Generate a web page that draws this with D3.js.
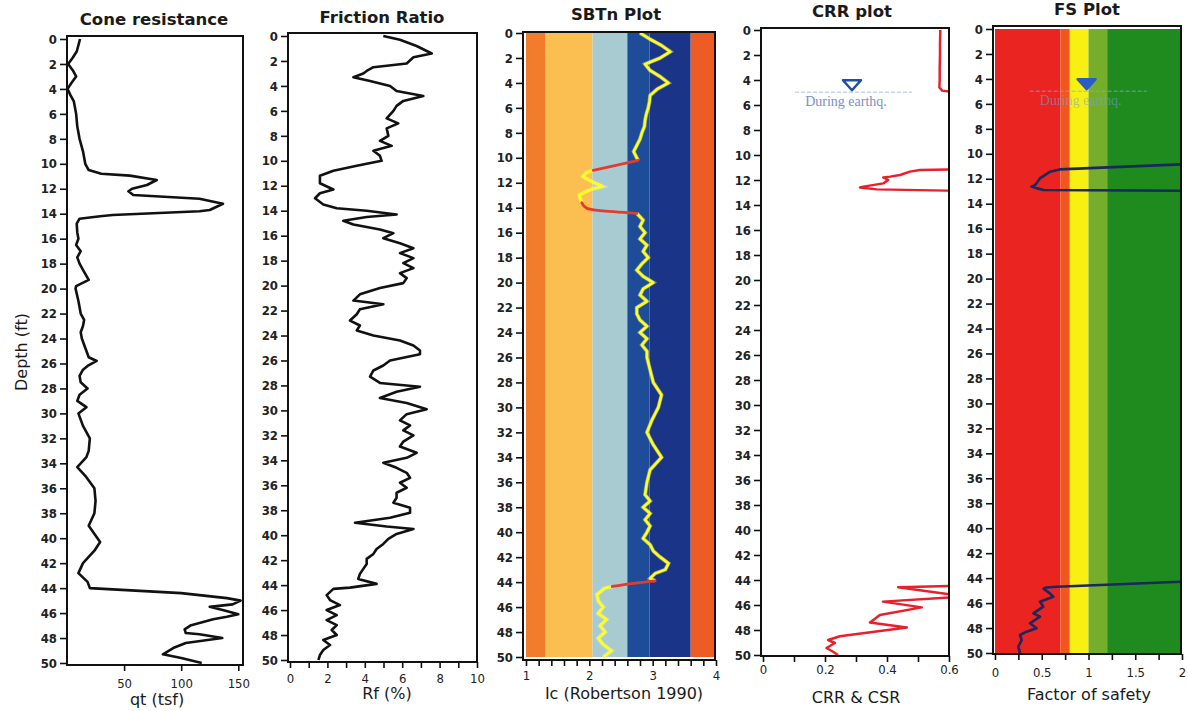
<!DOCTYPE html>
<html><head><meta charset="utf-8">
<script src="https://cdn.jsdelivr.net/npm/d3@7"></script>
<style>body{margin:0;background:#fff}svg{display:block}</style>
</head><body>
<svg id="c" width="1188" height="711"></svg>
<script>
// ---------------- DATA ----------------
const depthTicks = d3.range(0, 51, 2);

// Cone resistance qt (tsf)
const qtDepth = [0,0.5,1,1.5,2,2.5,3,3.5,4,4.5,5,6,7,8,9,10,10.5,10.8,10.95,11.3,11.7,12.0,12.2,12.5,12.8,13.2,13.7,13.8,14.1,14.2,14.4,14.8,15.5,16,16.5,17,17.5,18,18.5,19.3,19.8,20,21,22,22.5,23,23.5,24,24.5,25,25.5,25.8,26.2,26.5,27,27.5,28,28.5,29,29.5,30,31,32,33,33.5,34.3,35,36,37,38,39,40.3,41,42,42.8,43.5,44,44.1,44.4,44.8,45.0,45.3,45.5,45.8,46.1,46.3,46.5,47,47.3,47.6,47.7,48,48.4,48.8,49.3,49.6,50];
const qtValue = [11.4,10,8.5,5,1,5,8,4,0.5,3,6,8,9,11,14,16,19,30,55,78.6,70,57,53.8,58,116,136.6,125,116,40,29,11,8.5,9,10,8,12,9,11,14,19,8,7.5,10,12,15,14,12,13,15,17,19,26,18,14,11,12,18,11,9,17,10,14,20,19,17,9,16,24,25,24,19,29,24,14,10,18,20,40,100,140,152,145,125,138,150,140,128,108,103,104,116,136,104,93,84,100,118];

// Friction ratio Rf (%)
const rfDepth = [0,0.3,0.8,1.4,1.7,2.2,2.5,2.8,3.0,3.3,3.6,4.0,4.4,4.8,5.2,5.6,6,6.6,7,7.4,8,8.4,8.8,9.2,9.6,10,10.4,10.8,11.2,11.8,12.3,12.6,13,13.5,13.8,14,14.3,14.5,14.8,15.1,15.5,15.8,16.2,16.6,17,17.4,17.8,18.2,18.6,19,19.4,19.8,20.2,20.7,21.2,21.5,21.9,22.3,22.8,23.2,23.6,24.0,24.4,24.8,25.2,25.5,26,26.4,26.8,27.3,27.8,28.1,28.5,29,29.4,29.9,30.3,30.8,31.2,31.6,32,32.5,32.9,33.4,33.8,34.2,34.6,35,35.4,35.8,36.2,36.6,37,37.4,37.8,38.2,38.6,39,39.3,39.5,39.9,40.3,40.7,41.1,41.5,41.9,42.3,42.7,43.1,43.5,43.9,44.2,44.3,44.8,45.2,45.6,46,46.4,46.8,47.2,47.6,48,48.4,48.8,49.2,49.6,50];
const rfValue = [4.99,5.88,6.77,7.58,6.6,6.24,4.46,4.1,3.92,3.39,4.28,5.35,5.7,7.13,6.06,5.7,5.53,5.17,5.79,5.17,5.26,4.81,5.44,4.46,4.81,4.9,3.57,2.32,1.6,1.6,2.32,1.6,1.34,1.78,2.5,4.1,5.7,4.1,2.85,3.39,4.81,5.53,4.99,5.88,6.6,5.88,6.6,6.06,6.6,5.88,6.24,6.06,4.81,3.74,3.39,4.99,3.74,3.57,3.21,3.74,3.57,4.46,5.88,6.6,6.95,6.95,5.35,4.99,4.46,4.28,4.81,6.95,5.7,4.81,6.24,7.31,6.24,5.88,6.42,6.06,6.6,6.06,5.88,6.77,6.24,4.99,5.7,6.24,6.42,5.88,6.24,5.7,5.7,5.53,6.42,6.42,5.35,3.48,5.17,6.6,5.7,5.26,4.99,4.63,4.46,4.1,4.1,3.92,3.74,3.65,4.63,3.21,2.32,1.96,2.14,2.67,1.96,2.5,1.96,2.5,2.23,2.5,1.78,2.14,1.78,1.6,1.52];

// SBTn index Ic (Robertson 1990)
const icDepth = [0,0.5,1,1.5,2,2.5,3,3.5,4,4.5,5,5.5,6,6.5,7,7.5,8,8.5,9,9.5,10,10.2,10.6,11.0,11.2,11.5,11.8,12.0,12.3,12.5,12.7,13.0,13.3,13.6,14.05,14.24,14.45,15,15.5,16,16.5,17,17.5,18,18.5,19,19.5,20,20.5,21,21.5,22,22.5,23,23.5,24,24.5,25,25.5,26,27,28,29,30,31,32,33,34,35,36,37,37.5,38,38.5,39,39.5,40,40.5,41,41.5,42,42.5,43,43.3,43.7,43.9,44.1,44.35,44.5,44.8,45,45.5,46,46.5,47,47.5,48,48.5,49,49.5,50];
const icValue = [2.80,2.96,3.14,3.28,3.12,2.88,2.96,3.12,3.25,3.07,2.96,2.95,2.93,2.90,2.88,2.87,2.83,2.80,2.75,2.70,2.75,2.77,2.42,2.06,1.95,1.90,2.00,2.08,2.21,2.05,1.95,1.84,1.86,1.88,1.96,2.17,2.75,2.85,2.80,2.88,2.80,2.91,2.85,2.93,2.83,2.75,2.85,3.01,2.85,2.80,2.91,2.75,2.75,2.80,2.91,2.80,2.91,2.83,2.91,2.91,2.96,3.01,3.14,3.09,2.99,2.91,3.01,3.14,2.96,2.91,2.88,2.96,2.85,2.96,2.88,2.96,2.91,2.85,2.96,3.01,3.12,3.25,3.20,3.04,2.96,3.04,2.70,2.36,2.24,2.17,2.12,2.14,2.22,2.14,2.27,2.17,2.25,2.14,2.22,2.35,2.22];
const icTransitions = [[10.2, 11.0], [13.6, 14.45], [43.9, 44.35]];
const sbtZoneEdges = [1, 1.31, 2.05, 2.6, 2.95, 3.6, 4];

// CRR (null = off chart)
const crrDepth = [0,1,2,3,4,4.6,4.85,4.95,5.0,5.01,11.15,11.2,11.33,11.6,11.73,11.8,12.0,12.27,12.53,12.6,12.75,12.85,12.9,12.91,44.45,44.58,45.2,45.36,45.73,46.19,46.8,47.4,47.8,48.5,48.8,49.04,49.44,49.74,50];
const crrValue = [0.572,0.571,0.571,0.570,0.570,0.569,0.578,0.61,0.65,null,0.65,0.506,0.474,0.442,0.41,0.388,0.404,0.388,0.324,0.313,0.367,0.593,0.65,null,0.65,0.436,0.62,0.62,0.387,0.512,0.377,0.345,0.464,0.248,0.21,0.232,0.205,0.226,0.242];

// Factor of safety
const fsDepth = [10.75,11.25,11.43,11.97,12.5,12.63,12.77,12.9,12.98,13.0,44.2,44.69,44.75,44.85,45.22,45.49,45.89,46.28,46.82,47.08,47.62,48.02,48.29,48.56,48.96,49.5,50];
const fsValue = [2.3,0.69,0.59,0.48,0.43,0.39,0.45,0.52,2.3,null,2.3,0.66,0.55,0.52,0.587,0.623,0.481,0.516,0.41,0.481,0.374,0.445,0.338,0.267,0.285,0.249,0.267];
const fsZoneEdges = [0, 0.7, 0.8, 1.0, 1.2, 2];

const waterTableDepth = 4.9;
const waterTableLabel = "During earthq.";

// ---------------- DRAWING ----------------
const svg = d3.select('#c');
const FONT_C = "'DejaVu Sans Condensed','DejaVu Sans',sans-serif";
const FONT = "'DejaVu Sans',Verdana,sans-serif";
const fmt = d => String(Math.round(d * 100) / 100);

function zip(a, b) { return a.map((d, i) => ({d: d, v: b[i]})); }

function drawPanel(o) {
  const x = d3.scaleLinear().domain(o.xDomain).range(o.xRange);
  const y = d3.scaleLinear().domain([0, 50]).range(o.yRange);
  const g = svg.append('g');
  const fx0 = o.frameL, fx1 = o.frameR, fy0 = o.frameT, fy1 = o.frameB;

  const clipId = 'clip-' + o.id;
  svg.append('clipPath').attr('id', clipId).append('rect')
    .attr('x', fx0).attr('y', fy0).attr('width', fx1 - fx0).attr('height', fy1 - fy0);

  if (o.bands) {
    g.append('g').attr('clip-path', `url(#${clipId})`).selectAll('rect').data(o.bands).join('rect')
      .attr('x', b => x(b.a)).attr('width', b => x(b.b) - x(b.a))
      .attr('y', y(0)).attr('height', y(50) - y(0)).attr('fill', b => b.c);
  }
  const plot = g.append('g').attr('clip-path', `url(#${clipId})`);
  if (o.draw) o.draw(plot, x, y);

  // frame
  g.append('rect').attr('x', fx0).attr('y', fy0).attr('width', fx1 - fx0).attr('height', fy1 - fy0)
    .attr('fill', 'none').attr('stroke', '#111').attr('stroke-width', 2);

  // y axis
  g.append('g').attr('transform', `translate(${fx0},0)`)
    .call(d3.axisLeft(y).tickValues(depthTicks).tickSize(7).tickPadding(3))
    .call(a => a.select('.domain').remove())
    .call(a => a.selectAll('line').attr('stroke', '#111').attr('stroke-width', 1.6))
    .call(a => a.selectAll('text').attr('font-family', FONT_C).attr('font-size', 13)
      .attr('font-weight', 'bold').attr('fill', '#222'));

  // x axis
  const isMajor = d => o.labels.some(l => Math.abs(l - d) < 1e-9);
  g.append('g').attr('transform', `translate(0,${fy1})`)
    .call(d3.axisBottom(x).tickValues(o.ticks).tickSize(6).tickPadding(o.tickPad)
      .tickFormat(d => isMajor(d) ? fmt(d) : ''))
    .call(a => a.select('.domain').remove())
    .call(a => a.selectAll('line').attr('stroke', '#111').attr('stroke-width', 1.6))
    .call(a => a.selectAll('text').attr('font-family', FONT_C).attr('font-size', 13)
      .attr('fill', '#222'));

  // title and x label
  g.append('text').attr('x', o.titleX).attr('y', o.titleY).attr('text-anchor', 'middle')
    .attr('font-family', FONT).attr('font-weight', 'bold').attr('font-size', 16.5).attr('fill', '#1a1a1a')
    .text(o.title);
  g.append('text').attr('x', o.xlabelX).attr('y', o.xlabelY).attr('text-anchor', 'middle')
    .attr('font-family', FONT).attr('font-size', 16).attr('fill', '#1a1a1a')
    .text(o.xlabel);
  if (o.annot) o.annot(g, x, y);
}

const curve = (x, y) => d3.line().defined(p => p.v != null).x(p => x(p.v)).y(p => y(p.d));

function waterTable(g, x, y, xv, filled) {
  const cx = x(xv), tip = y(waterTableDepth) - 1;
  g.append('line').attr('x1', cx - 57).attr('x2', cx + 60).attr('y1', tip + 2).attr('y2', tip + 2)
    .attr('stroke', filled ? 'rgba(140,170,220,0.5)' : '#c9d5ea').attr('stroke-width', 1.5)
    .attr('stroke-dasharray', '4,2');
  g.append('path').attr('d', `M${cx - 9},${tip - 10}L${cx + 9},${tip - 10}L${cx},${tip}Z`)
    .attr('fill', filled ? '#2a5cc8' : '#fff').attr('stroke', filled ? '#2a5cc8' : '#1d4f9c')
    .attr('stroke-width', 2.5).attr('stroke-linejoin', 'round');
  g.append('text').attr('x', cx - 6).attr('y', tip + 16).attr('text-anchor', 'middle')
    .attr('font-family', "'Liberation Serif',serif").attr('font-size', 14)
    .attr('fill', filled ? 'rgba(120,160,220,0.55)' : '#7b90c2').text(waterTableLabel);
}

// Panel 1: Cone resistance
drawPanel({
  id: 'qt', title: 'Cone resistance', titleX: 154, titleY: 25, xlabel: 'qt (tsf)', xlabelX: 157, xlabelY: 705,
  xDomain: [0, 155], xRange: [67, 244], yRange: [39, 663], frameL: 67, frameR: 243, frameT: 36, frameB: 665,
  ticks: [50, 100, 150], labels: [50, 100, 150], tickPad: 8,
  draw: (p, x, y) => p.append('path').datum(zip(qtDepth, qtValue)).attr('d', curve(x, y))
    .attr('fill', 'none').attr('stroke', '#111').attr('stroke-width', 2.6).attr('stroke-linejoin', 'round')
});

// Panel 2: Friction ratio
drawPanel({
  id: 'rf', title: 'Friction Ratio', titleX: 382, titleY: 23, xlabel: 'Rf (%)', xlabelX: 387, xlabelY: 699,
  xDomain: [0, 10], xRange: [290, 477], yRange: [36, 660], frameL: 288, frameR: 477, frameT: 33, frameB: 662,
  ticks: d3.range(0, 11, 1), labels: [0, 2, 4, 6, 8, 10], tickPad: 6,
  draw: (p, x, y) => p.append('path').datum(zip(rfDepth, rfValue)).attr('d', curve(x, y))
    .attr('fill', 'none').attr('stroke', '#111').attr('stroke-width', 2.6).attr('stroke-linejoin', 'round')
});

// Panel 3: SBTn
const sbtColors = ['#f07c2c', '#fbbe50', '#a8cbd2', '#1d4c98', '#1a3587', '#ee5c25'];
drawPanel({
  id: 'sbt', title: 'SBTn Plot', titleX: 616, titleY: 20, xlabel: 'Ic (Robertson 1990)', xlabelX: 624, xlabelY: 699,
  xDomain: [1, 4], xRange: [526, 716], yRange: [33, 657], frameL: 523, frameR: 715, frameT: 32, frameB: 660,
  ticks: d3.range(0, 16).map(i => 1 + i * 0.2), labels: [1, 2, 3, 4], tickPad: 5,
  bands: sbtColors.map((c, i) => ({a: sbtZoneEdges[i], b: sbtZoneEdges[i + 1], c: c})),
  draw: (p, x, y) => {
    const pts = zip(icDepth, icValue);
    const inside = d => icTransitions.some(t => d > t[0] + 1e-9 && d < t[1] - 1e-9);
    const yl = d3.line().defined(p => !inside(p.d)).x(p => x(p.v)).y(p => y(p.d));
    p.append('path').datum(pts).attr('d', yl).attr('fill', 'none')
      .attr('stroke', '#fff7a0').attr('stroke-width', 4).attr('stroke-opacity', 0.45);
    p.append('path').datum(pts).attr('d', yl).attr('fill', 'none')
      .attr('stroke', '#ffff1e').attr('stroke-width', 2.6).attr('stroke-linejoin', 'round');
    icTransitions.forEach(t => {
      const seg = pts.filter(q => q.d >= t[0] - 1e-9 && q.d <= t[1] + 1e-9);
      p.append('path').datum(seg).attr('d', d3.line().curve(d3.curveMonotoneY).x(q => x(q.v)).y(q => y(q.d)))
        .attr('fill', 'none').attr('stroke', '#e33b2e').attr('stroke-width', 2.8).attr('stroke-linecap', 'round');
    });
  }
});

// Panel 4: CRR
drawPanel({
  id: 'crr', title: 'CRR plot', titleX: 852, titleY: 17, xlabel: 'CRR & CSR', xlabelX: 856, xlabelY: 703,
  xDomain: [0, 0.6], xRange: [763, 949], yRange: [30, 655], frameL: 761, frameR: 949, frameT: 28, frameB: 656,
  ticks: d3.range(0, 7).map(i => i * 0.1), labels: [0, 0.2, 0.4, 0.6], tickPad: 3,
  draw: (p, x, y) => p.append('path').datum(zip(crrDepth, crrValue)).attr('d', curve(x, y))
    .attr('fill', 'none').attr('stroke', '#e8202a').attr('stroke-width', 2.5).attr('stroke-linejoin', 'round'),
  annot: (g, x, y) => waterTable(g, x, y, 0.287, false)
});

// Panel 5: FS
const fsColors = ['#ea2420', '#f2561f', '#f8f012', '#74ae2a', '#1f8b1f'];
drawPanel({
  id: 'fs', title: 'FS Plot', titleX: 1087, titleY: 15, xlabel: 'Factor of safety', xlabelX: 1089, xlabelY: 700,
  xDomain: [0, 2], xRange: [995, 1182], yRange: [29, 653], frameL: 993, frameR: 1181, frameT: 26, frameB: 654,
  ticks: d3.range(0, 9).map(i => i * 0.25), labels: [0, 0.5, 1, 1.5, 2], tickPad: 8,
  bands: fsColors.map((c, i) => ({a: fsZoneEdges[i], b: fsZoneEdges[i + 1], c: c})),
  draw: (p, x, y) => p.append('path').datum(zip(fsDepth, fsValue)).attr('d', curve(x, y))
    .attr('fill', 'none').attr('stroke', '#1b275e').attr('stroke-width', 2.6).attr('stroke-linejoin', 'round'),
  annot: (g, x, y) => waterTable(g, x, y, 0.98, true)
});

// Depth label
svg.append('text').attr('transform', 'translate(27,352) rotate(-90)').attr('text-anchor', 'middle')
  .attr('font-family', FONT).attr('font-size', 16).attr('fill', '#1a1a1a').text('Depth (ft)');
</script>
</body></html>
